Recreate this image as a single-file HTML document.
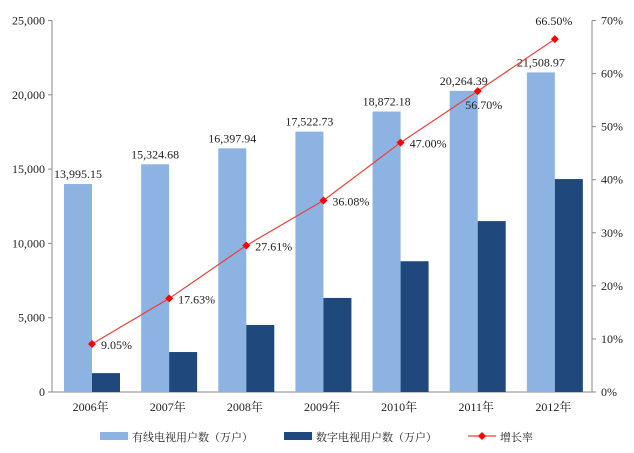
<!DOCTYPE html>
<html><head><meta charset="utf-8"><style>
body{margin:0;background:#fff;}
svg{font-family:"Liberation Serif","Noto Serif CJK SC",serif;}
</style></head><body>
<svg id="chart" width="634" height="448" viewBox="0 0 634 448" xmlns="http://www.w3.org/2000/svg"></svg>
<script>
const categories=["2006年","2007年","2008年","2009年","2010年","2011年","2012年"];
const cableUsers=[13995.15,15324.68,16397.94,17522.73,18872.18,20264.39,21508.97];
const digitalUsers=[1270,2690,4510,6330,8800,11500,14330];
const growthRate=[9.05,17.63,27.61,36.08,47.00,56.70,66.50];
const leftTicks=[0,5000,10000,15000,20000,25000];
const rightTicks=[0,10,20,30,40,50,60,70];
const cableLabels=["13,995.15","15,324.68","16,397.94","17,522.73","18,872.18","20,264.39","21,508.97"];

const svg=document.getElementById('chart');
const NS="http://www.w3.org/2000/svg";
const L=52,R=592,T=20.5,B=392;
const step=(R-L)/categories.length;
const yL=v=>B-(v/25000)*(B-T);
const yR=v=>B-(v/70)*(B-T);
function mk(tag,attrs,text){const e=document.createElementNS(NS,tag);for(const k in attrs)e.setAttribute(k,attrs[k]);if(text!==undefined)e.textContent=text;svg.appendChild(e);return e;}

let e;
e=mk('line',{x1:L,y1:T,x2:L,y2:B,stroke:'#888'});


e=mk('line',{x1:R,y1:T,x2:R,y2:B,stroke:'#888'});


e=mk('line',{x1:L,y1:B,x2:R,y2:B,stroke:'#888'});



leftTicks.forEach(v=>{
 e=mk('line',{x1:L-4,y1:yL(v),x2:L,y2:yL(v),stroke:'#888'});
 
 
 e=mk('text',{x:L-7,y:yL(v)+4,'text-anchor':'end','font-size':12,fill:'#222'},v.toLocaleString('en-US'));
 
 
});
rightTicks.forEach(v=>{
 e=mk('line',{x1:R,y1:yR(v),x2:R+4,y2:yR(v),stroke:'#888'});
 
 
 e=mk('text',{x:R+9,y:yR(v)+4,'font-size':12,fill:'#222'},v+'%');
 
 
});

categories.forEach((c,i)=>{
 const x0=L+i*step+12;
 e=mk('rect',{x:x0,y:yL(cableUsers[i]),width:28,height:B-yL(cableUsers[i]),fill:'#8db3e2'});
 
 
 e=mk('rect',{x:x0+28,y:yL(digitalUsers[i]),width:28,height:B-yL(digitalUsers[i]),fill:'#1f497d'});
 
 
 e=mk('text',{x:x0+14,y:yL(cableUsers[i])-6,'text-anchor':'middle','font-size':12,fill:'#222'},cableLabels[i]);
 
 
 e=mk('text',{x:L+i*step+step/2,y:411,'text-anchor':'middle','font-size':12,fill:'#222'},c);
 
 
});

const px=i=>L+i*step+40;
e=mk('polyline',{points:growthRate.map((v,i)=>px(i)+','+yR(v)).join(' '),fill:'none',stroke:'#e8413c','stroke-width':1.2});


growthRate.forEach((v,i)=>{
 const x=px(i),y=yR(v);
 e=mk('path',{d:`M${x} ${y-4}L${x+4} ${y}L${x} ${y+4}L${x-4} ${y}Z`,fill:'#ff0000'});
 
 
 let tx=x+9,ty=y+5,anc='start';
 if(i>=5){tx=x+(i==6?-1:6);ty=i==6?y-14:y+18;anc='middle';}
 e=mk('text',{x:tx,y:ty,'text-anchor':anc,'font-size':12,fill:'#222'},v.toFixed(2)+'%');
 
 
});

// legend
e=mk('rect',{x:100,y:432,width:28,height:8,fill:'#8db3e2'});


e=mk('text',{x:132,y:441,'font-size':11,fill:'#222'},'有线电视用户数（万户）');


e=mk('rect',{x:284,y:432,width:28,height:8,fill:'#1f497d'});


e=mk('text',{x:316,y:441,'font-size':11,fill:'#222'},'数字电视用户数（万户）');


e=mk('line',{x1:468,y1:436,x2:496,y2:436,stroke:'#e8413c','stroke-width':1.2});


e=mk('path',{d:'M482 432L486 436L482 440L478 436Z',fill:'#ff0000'});


e=mk('text',{x:500,y:441,'font-size':11,fill:'#222'},'增长率');


</script>
</body></html>
